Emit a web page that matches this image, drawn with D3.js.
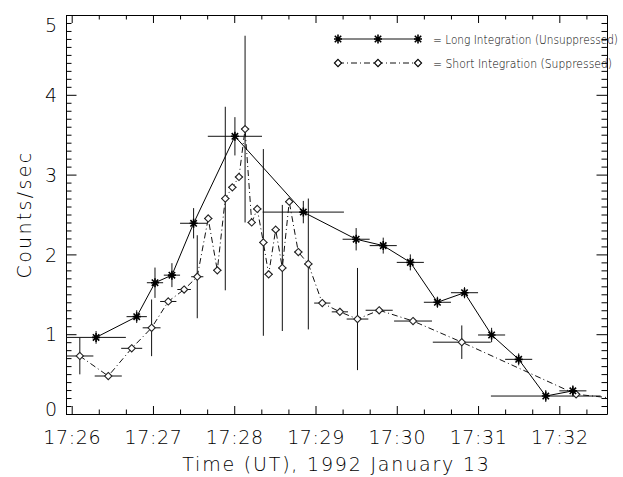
<!DOCTYPE html>
<html lang="en">
<head>
    <meta charset="UTF-8">
    <title>Counts/sec vs Time, 1992 January 13</title>
    <script src="https://d3js.org/d3.v7.min.js"></script>
    <style>
        body { margin: 0; background: #fff; }
        svg { display: block; }
        .lbl {
            font-family: "DejaVu Sans", sans-serif;
            font-weight: 200;
            fill: #000;
        }
    </style>
</head>
<body>
    <svg width="623" height="477"></svg>
    <script>
        // time in seconds after 17:26:00 UT
        const longTime = [18, 48, 61.5, 74, 90, 120.5, 171, 210, 230, 250, 270, 290, 310, 330, 350, 370];
        const longVal  = [0.96, 1.22, 1.645, 1.74, 2.39, 3.48, 2.53, 2.19, 2.11, 1.90, 1.40, 1.52, 0.99, 0.685, 0.225, 0.29];
        const longXErr = [22, 7.5, 6, 6, 10, 20, 30, 10, 10, 10, 10, 10, 10, 10, 40.5, 10];
        const longYErr = [0.08, 0.08, 0.19, 0.15, 0.19, 0.24, 0.14, 0.14, 0.1, 0.1, 0.07, 0.07, 0.09, 0.075, 0.075, 0.07];

        const shortTime = [6, 27, 44.3, 59, 71.3, 83, 92.7, 100.8, 107.5, 113.4, 118.6, 123.5, 128, 132.9, 137,
                           141.5, 145.4, 150.6, 155.5, 160.6, 167.3, 174.7, 185, 198, 211, 227, 252, 288, 372.4, 410];
        const shortVal  = [0.727, 0.476, 0.823, 1.08, 1.41, 1.56, 1.72, 2.45, 1.80, 2.70, 2.84, 2.97, 3.57, 2.40, 2.57,
                           2.15, 1.75, 2.31, 1.83, 2.66, 2.03, 1.88, 1.39, 1.28, 1.19, 1.30, 1.165, 0.90, 0.247, 0.18];
        const shortXErr = [10, 10, 7.75, 6.6, 6, 5, 4.5, 3, 3, 3, 3, 3, 3, 3, 3,
                           3, 3, 3, 3, 3, 3, 3, 6, 6, 8, 10, 14, 21.4, 3, 3];
        const shortYErr = [0.23, 0.03, 0.04, 0.355, 0.04, 0.04, 0.52, 0.03, 0.03, 1.15, 0.03, 0.03, 1.17, 0.03, 0.03,
                           1.17, 0.03, 0.03, 0.79, 0.03, 0.03, 0.82, 0.03, 0.03, 0.64, 0.03, 0.03, 0.21, 0.03, 0.03];

        const majorTicks = [0, 60, 120, 180, 240, 300, 360];
        const tickLabels = ["17:26", "17:27", "17:28", "17:29", "17:30", "17:31", "17:32"];
        const yTicks = [0, 1, 2, 3, 4, 5];

        const longData = longTime.map((t, i) => ({t: t, v: longVal[i], xe: longXErr[i], ye: longYErr[i]}));
        const shortData = shortTime.map((t, i) => ({t: t, v: shortVal[i], xe: shortXErr[i], ye: shortYErr[i]}));

        const plotL = 66, plotR = 607, plotT = 15, plotB = 414;

        const x = d3.scaleLinear().domain([-4.2, 395.2]).range([plotL, plotR]);
        const y = d3.scaleLinear().domain([0, 5]).range([plotB, plotT]);

        const svg = d3.select("svg");

        svg.append("defs").append("clipPath").attr("id", "plotClip")
          .append("rect")
            .attr("x", plotL).attr("y", plotT)
            .attr("width", plotR - plotL).attr("height", plotB - plotT);

        // minor ticks every 20 s, and every 0.1 on y
        const minorX = d3.range(0, 400, 20).filter(s => s % 60 !== 0 && x(s) <= plotR);
        const minorY = d3.range(0, 50).map(i => i / 10).filter(v => Math.round(v * 10) % 10 !== 0);

        function styleAxis(g) {
            g.selectAll("path, line").attr("stroke", "#000").attr("stroke-width", 1);
        }

        // bottom axis with labels
        svg.append("g")
            .attr("transform", "translate(0," + plotB + ")")
            .call(d3.axisBottom(x).tickValues(majorTicks).tickSizeInner(-8).tickSizeOuter(0)
                .tickPadding(17).tickFormat((d, i) => tickLabels[i]))
            .call(styleAxis)
          .selectAll("text")
            .attr("class", "lbl")
            .style("font-size", "19px")
            .style("letter-spacing", "0.6px");

        svg.append("g")
            .attr("transform", "translate(0," + plotB + ")")
            .call(d3.axisBottom(x).tickValues(minorX).tickSize(-4.5).tickFormat(""))
            .call(styleAxis)
            .select(".domain").remove();

        // top axis, ticks only
        svg.append("g")
            .attr("transform", "translate(0," + plotT + ")")
            .call(d3.axisTop(x).tickValues(majorTicks).tickSizeInner(-8).tickSizeOuter(0).tickFormat(""))
            .call(styleAxis);
        svg.append("g")
            .attr("transform", "translate(0," + plotT + ")")
            .call(d3.axisTop(x).tickValues(minorX).tickSize(-4.5).tickFormat(""))
            .call(styleAxis)
            .select(".domain").remove();

        // left axis with labels
        const yAxisG = svg.append("g")
            .attr("transform", "translate(" + plotL + ",0)")
            .call(d3.axisLeft(y).tickValues(yTicks).tickSizeInner(-10.5).tickSizeOuter(0)
                .tickPadding(9).tickFormat(d3.format("d")))
            .call(styleAxis);
        yAxisG.selectAll("text")
            .attr("class", "lbl")
            .style("font-size", "19px")
            .attr("dy", d => d === 5 ? "0.85em" : d === 0 ? "0.1em" : "0.35em");

        svg.append("g")
            .attr("transform", "translate(" + plotL + ",0)")
            .call(d3.axisLeft(y).tickValues(minorY).tickSize(-5.5).tickFormat(""))
            .call(styleAxis)
            .select(".domain").remove();

        // right axis, ticks only
        svg.append("g")
            .attr("transform", "translate(" + plotR + ",0)")
            .call(d3.axisRight(y).tickValues(yTicks).tickSizeInner(-10.5).tickSizeOuter(0).tickFormat(""))
            .call(styleAxis);
        svg.append("g")
            .attr("transform", "translate(" + plotR + ",0)")
            .call(d3.axisRight(y).tickValues(minorY).tickSize(-5.5).tickFormat(""))
            .call(styleAxis)
            .select(".domain").remove();

        // axis titles
        svg.append("text")
            .attr("class", "lbl")
            .attr("x", (plotL + plotR) / 2)
            .attr("y", 471)
            .attr("text-anchor", "middle")
            .style("font-size", "19px")
            .style("letter-spacing", "1.8px")
            .text("Time (UT), 1992 January 13");

        svg.append("text")
            .attr("class", "lbl")
            .attr("transform", "translate(31," + ((plotT + plotB) / 2) + ") rotate(-90)")
            .attr("text-anchor", "middle")
            .style("font-size", "19px")
            .style("letter-spacing", "2.3px")
            .text("Counts/sec");

        const plot = svg.append("g").attr("clip-path", "url(#plotClip)");

        const starPath = "M-4,0H4M0,-4.5V4.5M-3.2,-3.2L3.2,3.2M-3.2,3.2L3.2,-3.2";
        const diamondPath = "M0,-3.6L3.6,0L0,3.6L-3.6,0Z";

        function errorBars(data) {
            const g = plot.append("g").attr("stroke", "#111").attr("stroke-width", 1);
            g.selectAll(".xe").data(data).enter().append("line")
                .attr("x1", d => x(d.t - d.xe)).attr("x2", d => x(d.t + d.xe))
                .attr("y1", d => y(d.v)).attr("y2", d => y(d.v));
            g.selectAll(".ye").data(data).enter().append("line")
                .attr("x1", d => x(d.t)).attr("x2", d => x(d.t))
                .attr("y1", d => y(d.v - d.ye)).attr("y2", d => y(d.v + d.ye));
        }

        const line = d3.line().x(d => x(d.t)).y(d => y(d.v));

        errorBars(shortData);
        errorBars(longData);

        plot.append("path")
            .datum(shortData)
            .attr("fill", "none")
            .attr("stroke", "#111")
            .attr("stroke-width", 1)
            .attr("stroke-dasharray", "6,3,1,3")
            .attr("d", line);

        plot.append("path")
            .datum(longData)
            .attr("fill", "none")
            .attr("stroke", "#000")
            .attr("stroke-width", 1)
            .attr("d", line);

        plot.selectAll(".diamond").data(shortData).enter().append("path")
            .attr("transform", d => "translate(" + x(d.t) + "," + y(d.v) + ")")
            .attr("d", diamondPath)
            .attr("fill", "#fff")
            .attr("stroke", "#222")
            .attr("stroke-width", 1.1);

        plot.selectAll(".star").data(longData).enter().append("path")
            .attr("transform", d => "translate(" + x(d.t) + "," + y(d.v) + ")")
            .attr("d", starPath)
            .attr("fill", "none")
            .attr("stroke", "#000")
            .attr("stroke-width", 1.6);

        // legend
        const legend = svg.append("g");
        const legendRows = [
            {label: "= Long Integration (Unsuppressed)", dash: null, sym: starPath, ly: 39},
            {label: "= Short Integration (Suppressed)", dash: "6,3,1,3", sym: diamondPath, ly: 63}
        ];
        legendRows.forEach(function(r) {
            legend.append("line")
                .attr("x1", 338).attr("x2", 418)
                .attr("y1", r.ly).attr("y2", r.ly)
                .attr("stroke", "#111")
                .attr("stroke-dasharray", r.dash);
            [338, 378, 418].forEach(function(px) {
                legend.append("path")
                    .attr("transform", "translate(" + px + "," + r.ly + ")")
                    .attr("d", r.sym)
                    .attr("fill", r.dash ? "#fff" : "none")
                    .attr("stroke", "#000")
                    .attr("stroke-width", r.dash ? 1.1 : 1.6);
            });
            legend.append("text")
                .attr("class", "lbl")
                .attr("x", 433)
                .attr("y", r.ly + 4.5)
                .style("font-size", "12.5px")
                .attr("textLength", r.dash ? 179 : 185)
                .attr("lengthAdjust", "spacingAndGlyphs")
                .text(r.label);
        });
    </script>
</body>
</html>
